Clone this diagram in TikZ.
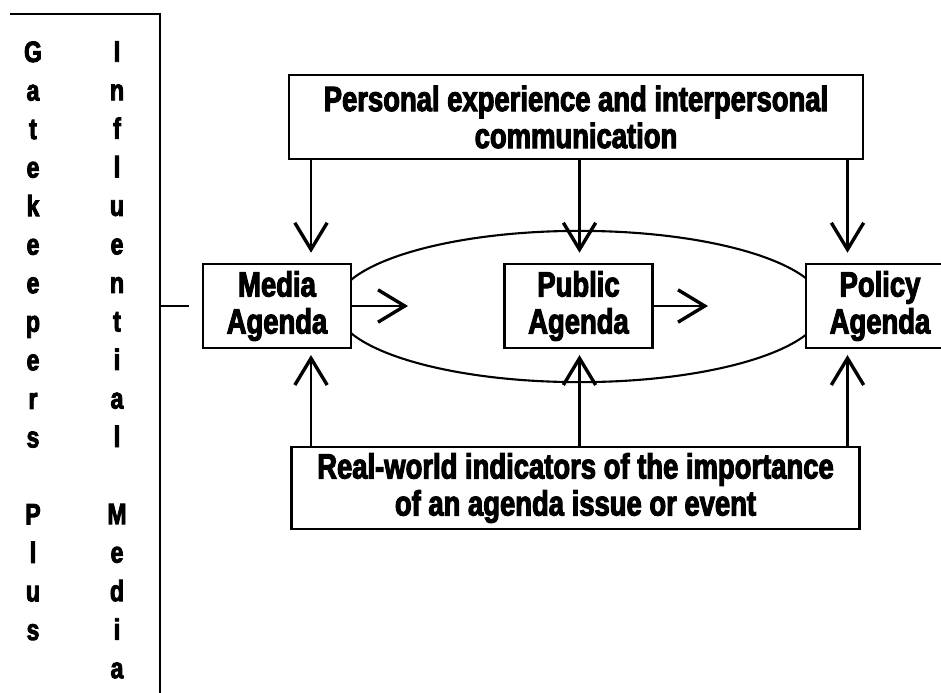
\documentclass[tikz,border=0pt]{standalone}
\usepackage{fontspec}
\newfontfamily\heavyfont{Liberation Sans Bold}[FakeStretch=0.78, FakeBold=3]
\usetikzlibrary{arrows.meta, shapes.geometric}

\tikzset{
    agenda/.style={draw, line width=2pt, fill=white, minimum width=3.7cm, minimum height=2.1cm,
        inner sep=0pt, align=center, font=\heavyfont\fontsize{25}{26.3}\selectfont},
    influence/.style={agenda, minimum height=2.1cm},
    column/.style={inner sep=0pt, align=center, anchor=north,
        font=\heavyfont\fontsize{21}{27.4}\selectfont},
}

\begin{document}
\begin{tikzpicture}[x=0.025cm, y=-0.025cm, line width=2pt,
        >={Straight Barb[length=19pt, width=23pt, line width=2.4pt]}]
        \clip (0,0) rectangle (941,692);

        % Oval behind the agendas
        \node[draw, ellipse, line width=1.5pt, minimum width=12.2cm, minimum height=3.78cm] (oval) at (579.5,306.5) {};

        % Agendas
        \node[agenda] (media) at (277,306) {Media\\Agenda};
        \node[agenda] (public) at (578.5,306) {Public\\Agenda};
        \node[agenda] (policy) at (880,306) {Policy\\Agenda};

        % Influences above and below
        \node[influence, minimum width=14.35cm] (personal) at (576,117) {Personal experience and interpersonal\\communication};
        \node[influence, minimum width=14.2cm, minimum height=2.05cm] (realworld) at (575.5,488) {Real-world indicators of the importance\\of an agenda issue or event};

        % Vertical labels
        \node[column] (gate) at (33,40) {G\\a\\t\\e\\k\\e\\e\\p\\e\\r\\s\\~\\P\\l\\u\\s};
        \node[column] (infl) at (117,40) {I\\n\\f\\l\\u\\e\\n\\t\\i\\a\\l\\~\\M\\e\\d\\i\\a};

        % Bracket
        \draw (10,14) -| (160,700);
        \coordinate (tick) at ([xshift=-0.325cm]media.west);
        \draw (tick) -- ++(-30,0);

        % Lanes and free ends
        \coordinate (lane1) at (311,0);
        \coordinate (lane2) at (579.5,0);
        \coordinate (lane3) at (847.5,0);
        \coordinate (mediatip) at (408,306);
        \coordinate (publictip) at (708,306);

        % Edges
        \draw[->, shorten >=7pt] (personal.south -| lane1) -- (media.north -| lane1);
        \draw[->, shorten >=7pt] (personal.south -| lane2) -- (public.north -| lane2);
        \draw[->, shorten >=7pt] (personal.south -| lane3) -- (policy.north -| lane3);
        \draw[->, shorten >=4pt] (realworld.north -| lane1) -- (media.south -| lane1);
        \draw[->, shorten >=4pt] (realworld.north -| lane2) -- (public.south -| lane2);
        \draw[->, shorten >=4pt] (realworld.north -| lane3) -- (policy.south -| lane3);
        \draw[->] (media.east) -- (mediatip);
        \draw[->] (public.east) -- (publictip);
    \end{tikzpicture}
\end{document}
